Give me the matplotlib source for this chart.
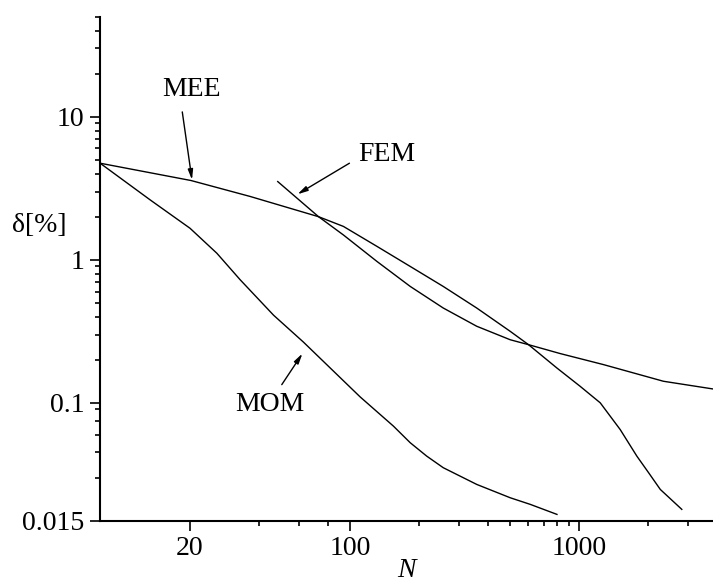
import matplotlib

matplotlib.use("Agg")
import matplotlib.pyplot as plt

plt.rcParams["font.family"] = ["Liberation Serif", "DejaVu Serif"]

# Convergence data (N unknowns vs relative error in %)
mee_n = [8.1, 20.2, 36.6, 72.8, 93.5, 131, 183, 255, 357, 500, 601, 800,
         1009, 1236, 1511, 1786, 2009, 2261, 2806]
mee_err = [4.73, 3.58, 2.77, 2.0, 1.71, 1.24, 0.898, 0.651, 0.46, 0.316, 0.255,
           0.175, 0.1306, 0.1, 0.065, 0.0424, 0.0325, 0.0248, 0.018]

fem_n = [48.3, 72.8, 93.5, 131, 183, 255, 357, 500, 601, 826, 1277, 2333, 3840]
fem_err = [3.52, 2.0, 1.49, 0.973, 0.651, 0.46, 0.343, 0.276, 0.255, 0.221,
           0.185, 0.1415, 0.125]

mom_n = [8.1, 13.4, 20, 26.2, 33.1, 46.3, 62.5, 110.6, 154.6, 183, 216, 255,
         357, 500, 612, 800]
mom_err = [4.73, 2.62, 1.66, 1.11, 0.725, 0.41, 0.266, 0.11, 0.0687, 0.0526,
           0.0424, 0.0352, 0.0269, 0.0217, 0.0195, 0.0166]

x_major = [20, 100, 1000]
x_minor = [40, 60, 80, 200, 300, 400, 500, 600, 700, 800, 900, 2000, 3000]
y_major = [0.015, 0.1, 1, 10]
y_major_labels = ["0.015", "0.1", "1", "10"]
y_minor = [0.03, 0.045, 0.06, 0.075, 0.09,
           0.2, 0.3, 0.4, 0.5, 0.6, 0.7, 0.8, 0.9,
           2, 3, 4, 5, 6, 7, 8, 9, 20, 30, 40, 50]

fig = plt.figure(figsize=(7.13, 5.84), dpi=100)
ax = fig.add_axes([100 / 713, 63.3 / 584, 613 / 713, 504 / 584])
ax.set_xscale("log")
ax.set_yscale("log")

# Curves
for n, err in [(mee_n, mee_err), (fem_n, fem_err), (mom_n, mom_err)]:
    ax.plot(n, err, color="black", lw=1.0)

ax.set_xlim(8.09, 3840)
ax.set_ylim(0.015, 50)

# Axes styling
for side in ["top", "right"]:
    ax.spines[side].set_visible(False)
for side in ["left", "bottom"]:
    ax.spines[side].set_linewidth(1.5)

ax.set_xticks(x_major)
ax.set_xticklabels([str(v) for v in x_major])
ax.set_xticks(x_minor, minor=True)
ax.set_xticklabels([], minor=True)
ax.set_yticks(y_major)
ax.set_yticklabels(y_major_labels)
ax.set_yticks(y_minor, minor=True)
ax.set_yticklabels([], minor=True)
ax.tick_params(which="major", direction="out", length=7.2, width=1.2,
               labelsize=20, pad=4)
ax.tick_params(which="minor", direction="out", length=3.6, width=1.2)

ax.set_xlabel("N", style="italic", fontsize=20, va="center")
ax.xaxis.set_label_coords(0.5, -0.099)
ax.set_ylabel("δ[%]", rotation=0, fontsize=20, ha="center", va="center")
ax.yaxis.set_label_coords(-0.0995, 0.585)

# Curve labels with arrows
arrow = dict(arrowstyle="-|>,head_length=0.6,head_width=0.15", color="black",
             lw=1.0, shrinkA=0, shrinkB=0)
ax.text(20.4, 15.6, "MEE", fontsize=20, ha="center", va="center")
ax.annotate("", xy=(20.4, 3.62), xytext=(18.5, 10.8), arrowprops=arrow)
ax.text(144, 5.41, "FEM", fontsize=20, ha="center", va="center")
ax.annotate("", xy=(58.9, 2.87), xytext=(99.3, 4.73), arrowprops=arrow)
ax.text(44.6, 0.098, "MOM", fontsize=20, ha="center", va="center")
ax.annotate("", xy=(61.9, 0.221), xytext=(50.3, 0.134), arrowprops=arrow)

fig.savefig("out.png", dpi=100)
plt.close(fig)
